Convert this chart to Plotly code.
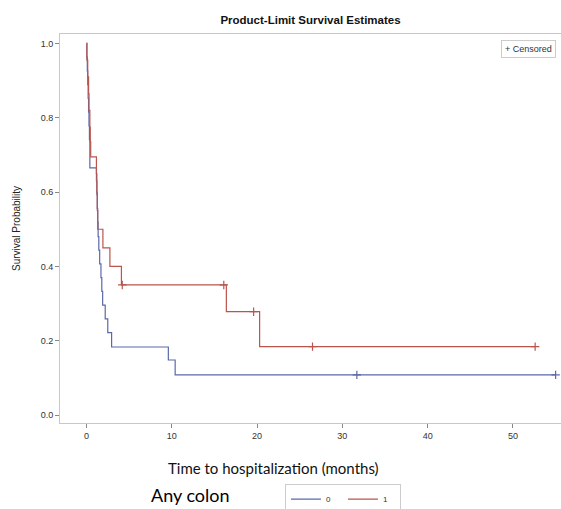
import plotly.graph_objects as go

# ---- data ----
red_t = [0, 0.05, 0.15, 0.25, 0.3, 0.4, 0.45, 0.5, 1.17, 1.22, 1.27, 1.32, 1.93, 2.75, 4.1, 16.4, 20.3, 52.6]
red_s = [1.0, 0.955, 0.91, 0.865, 0.82, 0.775, 0.735, 0.695, 0.65, 0.60, 0.55, 0.50, 0.45, 0.40, 0.35, 0.278, 0.184, 0.184]
red_cens_t = [4.2, 16.1, 19.6, 26.5, 52.6]
red_cens_s = [0.35, 0.35, 0.278, 0.184, 0.184]

blue_t = [0, 0.05, 0.1, 0.15, 0.2, 0.25, 0.3, 0.35, 0.4, 1.17, 1.22, 1.27, 1.32, 1.37, 1.45, 1.55, 1.7, 1.8, 1.9, 2.2, 2.5, 2.95, 9.6, 10.4, 55.0]
blue_s = [1.0, 0.963, 0.926, 0.889, 0.852, 0.815, 0.778, 0.741, 0.665, 0.63, 0.593, 0.556, 0.519, 0.48, 0.444, 0.407, 0.37, 0.333, 0.296, 0.259, 0.222, 0.183, 0.148, 0.108, 0.108]
blue_cens_t = [31.7, 55.0]
blue_cens_s = [0.108, 0.108]

x_ticks = [0, 10, 20, 30, 40, 50]
y_ticks = [0.0, 0.2, 0.4, 0.6, 0.8, 1.0]
y_labels = ["0.0", "0.2", "0.4", "0.6", "0.8", "1.0"]

blue = "#5c68aa"
red = "#b9554d"

fig = go.Figure()
fig.add_trace(go.Scatter(x=blue_t, y=blue_s, mode="lines", line=dict(color=blue, width=1.2, shape="hv"),
                         name="0", legend="legend"))
fig.add_trace(go.Scatter(x=red_t, y=red_s, mode="lines", line=dict(color=red, width=1.2, shape="hv"),
                         name="1", legend="legend"))
fig.add_trace(go.Scatter(x=blue_cens_t, y=blue_cens_s, mode="markers", cliponaxis=False,
                         marker=dict(symbol="cross-thin", size=6, line=dict(color=blue, width=1.2)),
                         showlegend=False))
fig.add_trace(go.Scatter(x=red_cens_t, y=red_cens_s, mode="markers", cliponaxis=False,
                         marker=dict(symbol="cross-thin", size=6, line=dict(color=red, width=1.2)),
                         showlegend=False))

tick_font = dict(family="Liberation Sans, Arial, sans-serif", size=9, color="#333333")

W, H = 561, 509
fig.update_layout(
    width=W, height=H,
    margin=dict(l=60, r=0, t=34, b=86, autoexpand=False),
    paper_bgcolor="white", plot_bgcolor="white",
    title=dict(text="<b>Product-Limit Survival Estimates</b>", x=310.5 / W, xanchor="center",
               y=1 - 20 / H, yanchor="middle",
               font=dict(family="Liberation Sans, Arial, sans-serif", size=11.5, color="#111111")),
    xaxis=dict(range=[-3.1, 55.63], tickvals=x_ticks, ticks="outside", ticklen=4, tickcolor="#888888",
               showgrid=False, zeroline=False, showline=True, linecolor="#c8c8c8", linewidth=1, mirror=True,
               tickfont=tick_font),
    yaxis=dict(range=[-0.0215, 1.0255], tickvals=y_ticks, ticktext=y_labels, ticks="outside", ticklen=4,
               tickcolor="#888888", showgrid=False, zeroline=False, showline=True, linecolor="#c8c8c8",
               linewidth=1, mirror=True, tickfont=tick_font,
               title=dict(text="Survival Probability", standoff=18,
                          font=dict(family="Liberation Sans, Arial, sans-serif", size=10, color="#222222"))),
    legend=dict(orientation="h", x=0.449, xanchor="left", y=-0.156, yanchor="top",
                bgcolor="white", bordercolor="#cccccc", borderwidth=1,
                font=dict(family="Liberation Sans, Arial, sans-serif", size=8, color="#333333"),
                entrywidth=12, tracegroupgap=0),
    showlegend=True,
)

fig.add_annotation(text="Time to hospitalization (months)", xref="paper", yref="paper",
                   x=0.427, y=-0.116, xanchor="center", yanchor="middle", showarrow=False,
                   font=dict(family="Lato, sans-serif", size=15, color="#111111"))
fig.add_annotation(text="Any colon", xref="paper", yref="paper",
                   x=0.178, y=-0.185, xanchor="left", yanchor="middle", showarrow=False,
                   font=dict(family="Lato, sans-serif", size=18, color="#000000"))
fig.add_annotation(text="+ Censored", xref="paper", yref="paper",
                   x=0.99, y=0.985, xanchor="right", yanchor="top", showarrow=False,
                   bordercolor="#cccccc", borderwidth=1, borderpad=3, bgcolor="white",
                   font=dict(family="Liberation Sans, Arial, sans-serif", size=9, color="#333333"))

fig.write_html("out.html", config={"displayModeBar": False},
               post_script="document.body.style.margin='0';")
